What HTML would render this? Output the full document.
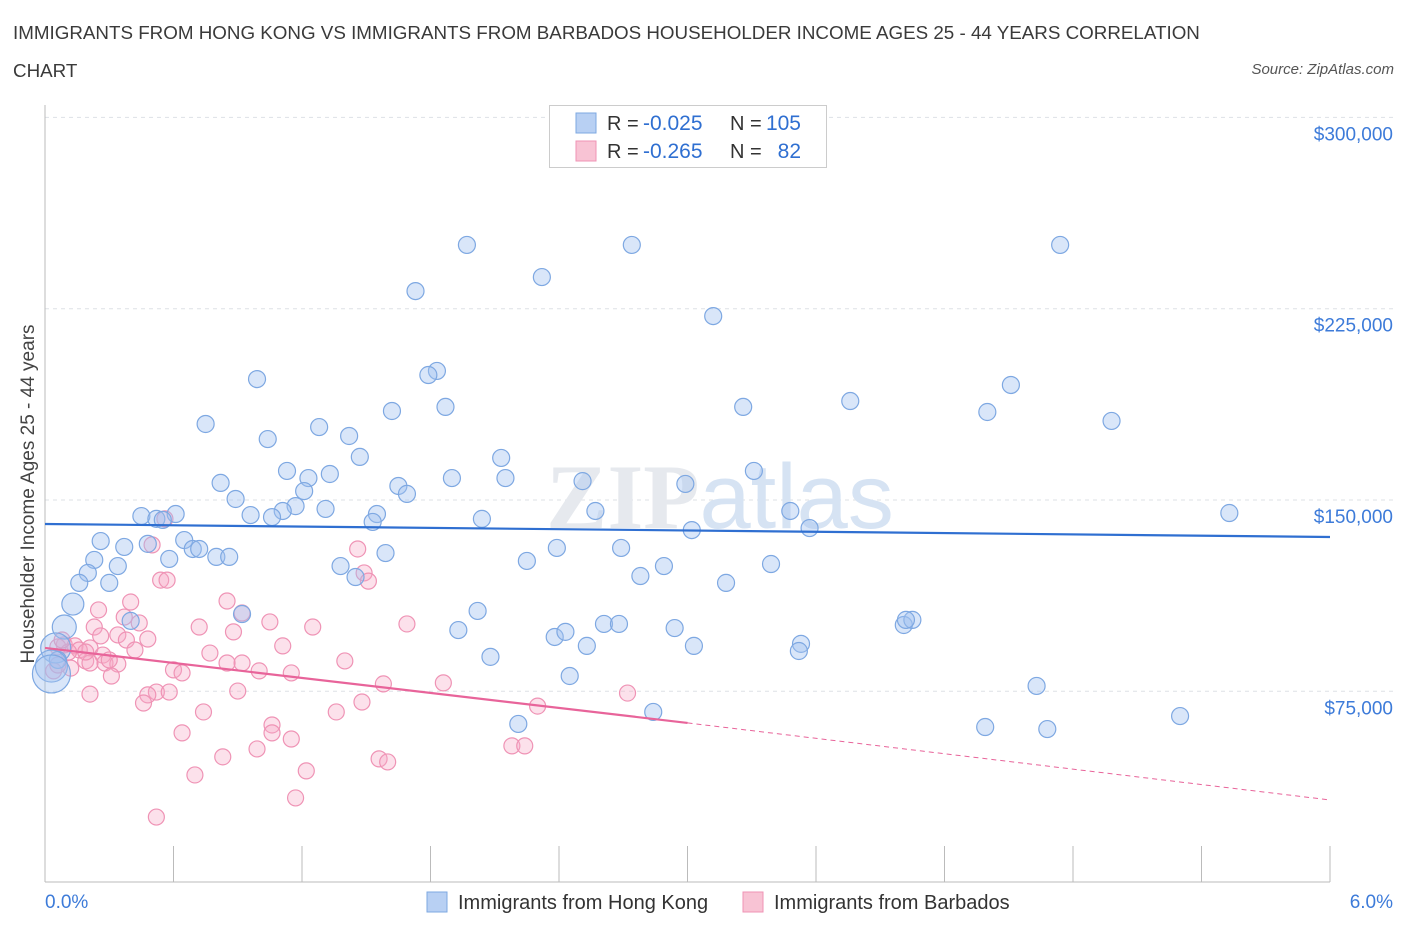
<!DOCTYPE html>
<html><head><meta charset="utf-8"><style>
body{margin:0;background:#fff;font-family:"Liberation Sans",sans-serif;}
#wrap{position:relative;width:1406px;height:930px;overflow:hidden;}
.title{position:absolute;left:13px;top:14px;font-size:18.8px;color:#3a3a3a;line-height:38px;width:1230px;}
.source{position:absolute;right:12px;top:61px;font-size:15px;color:#555;font-style:italic;}
</style></head><body>
<div id="wrap">
<div class="title">IMMIGRANTS FROM HONG KONG VS IMMIGRANTS FROM BARBADOS HOUSEHOLDER INCOME AGES 25 - 44 YEARS CORRELATION CHART</div>
<div class="source">Source: ZipAtlas.com</div>
<svg id="chart" width="1406" height="930" style="position:absolute;left:0;top:0"></svg>
</div>
<script>
const yTicks=[75000,150000,225000,300000];
const yTickLabels=["$75,000","$150,000","$225,000","$300,000"];
const xTickCount=10;
const xLabels=["0.0%","6.0%"];
const blueX=[1.97,2.74,4.74,2.32,1.73,3.12,0.99,1.83,1.79,4.51,1.62,1.87,3.26,3.76,4.40,4.98,0.75,1.04,1.28,1.42,1.47,2.13,1.13,1.23,1.33,0.82,1.65,1.69,1.90,2.15,2.51,2.99,3.31,0.89,1.21,1.17,1.11,1.31,0.96,1.06,1.55,1.53,0.45,0.52,0.61,0.55,2.04,2.57,3.48,5.53,3.02,3.57,0.26,0.37,0.48,0.65,0.69,0.72,0.80,0.86,0.58,1.59,2.39,2.69,0.23,0.34,1.38,1.45,2.25,2.89,3.39,0.20,0.16,0.30,2.78,3.18,0.13,0.92,0.40,2.02,0.09,1.93,2.38,2.43,2.61,2.68,2.94,3.53,3.52,4.01,4.05,4.02,2.53,3.03,2.08,0.05,0.06,0.03,0.03,2.45,4.63,2.84,2.21,4.39,4.68,5.30];
const blueY=[250,250,250,237.4,231.9,222.1,197.4,200.6,199,195.1,184.9,186.5,186.5,188.8,184.5,181,179.8,173.9,178.6,175.1,166.9,166.5,161.4,158.6,160.2,156.7,155.5,152.4,158.6,158.6,157.4,156.3,161.4,150.4,153.5,147.6,145.7,146.5,144.1,143.3,144.5,141.4,143.7,142.6,144.5,142.2,142.6,145.7,145.7,144.9,138.2,139,133.9,131.6,132.8,134.3,130.8,130.8,127.7,127.7,126.9,129.2,131.2,131.2,126.5,124.1,124.1,119.8,126.1,124.1,124.9,121.4,117.5,117.5,120.2,117.5,109.2,105.3,102.6,106.5,100.2,99,96.3,98.3,101.4,101.4,99.8,93.6,90.8,101,103,103,92.8,92.8,88.5,92,87.3,84.9,81.8,81,77.1,66.9,62.2,61,60.2,65.3];
const blueBig={95:15,97:16,98:19,80:12,76:11};
const pinkX=[0.56,0.50,1.46,0.54,0.57,1.49,1.51,0.85,0.40,0.25,0.92,0.37,1.05,0.44,1.25,1.69,0.72,0.23,0.88,0.34,0.48,0.26,1.11,0.38,0.42,0.09,0.14,0.06,0.21,0.16,0.11,0.27,0.77,1.40,0.28,0.92,0.85,0.34,0.19,0.21,0.30,1.00,0.60,1.15,0.64,0.12,0.04,0.31,1.58,1.86,0.52,0.48,0.58,0.90,0.21,2.72,1.48,0.46,0.74,1.36,2.30,1.06,0.64,1.06,1.15,0.83,0.99,2.18,2.24,1.56,1.60,1.22,0.70,1.17,0.52,0.06,0.08,0.19];
const pinkY=[142.6,132.4,130.8,118.6,118.6,121.4,118.2,110.4,110,106.9,105.7,104.1,102.2,101.8,100.2,101.4,100.2,100.2,98.3,97.1,95.5,96.7,92.8,95.1,91.2,93.2,92.8,92.4,92,91.2,90.4,89.2,90,86.9,86.1,86.1,86.1,85.7,86.9,86.1,87.3,83,83.4,82.2,82.2,84.1,83,81,77.9,78.3,74.7,73.6,74.7,75.1,73.9,74.3,70.8,70.4,66.9,66.9,69.2,61.8,58.7,58.7,56.3,49.3,52.4,53.6,53.6,48.5,47.3,43.8,42.2,33.2,25.7,85.3,95.1,90.4];
const blueTrend=[140.6,135.5];
const pinkTrend=[92,62.6,32.4];
const X0=45,X1=1330,Y0=882.6,PX_PER_K=191.3/75;
function sx(p){return X0+(p/6)*(X1-X0);}
function sy(k){return Y0-k*PX_PER_K;}
const svg=document.getElementById('chart');const NS='http://www.w3.org/2000/svg';
function mk(t,a,p){const e=document.createElementNS(NS,t);for(const k in a)e.setAttribute(k,a[k]);(p||svg).appendChild(e);return e;}
yTicks.forEach((v,i)=>{const y=sy(v/1000);
const g=mk('line',{x1:45,x2:1395,y1:y,y2:y,stroke:'#dde1e6','stroke-dasharray':'4,4'});


const t=mk('text',{x:1393,y:y+23,'text-anchor':'end','font-size':19,fill:'#3d7bd9','font-family':'Liberation Sans'});t.textContent=yTickLabels[i];

});
const ax=mk('line',{x1:45,x2:1330,y1:882,y2:882,stroke:'#bbb'});


const ay=mk('line',{x1:45,x2:45,y1:105,y2:882,stroke:'#bbb'});


for(let i=0;i<=xTickCount;i++){const x=sx(i*6/xTickCount);const t=mk('line',{x1:x,x2:x,y1:846,y2:882,stroke:'#bbb'});

}
const xl0=mk('text',{x:45,y:908,'font-size':19,fill:'#3d7bd9'});xl0.textContent=xLabels[0];


const xl1=mk('text',{x:1393,y:908,'font-size':19,fill:'#3d7bd9','text-anchor':'end'});xl1.textContent=xLabels[1];


const yt=mk('text',{x:34,y:494,'font-size':19,fill:'#444','text-anchor':'middle',transform:'rotate(-90 34 494)'});yt.textContent='Householder Income Ages 25 - 44 years';


const wm=mk('text',{x:720,y:528,'text-anchor':'middle','font-size':92,fill:'#e6e9ee','font-family':'Liberation Serif','font-weight':'bold'});
wm.innerHTML='ZIP<tspan font-family="Liberation Sans" font-weight="normal" fill="#d6e3f3">atlas</tspan>';


pinkX.forEach((v,i)=>{const c=mk('circle',{cx:sx(v),cy:sy(pinkY[i]),r:8,fill:'rgba(246,170,198,0.35)',stroke:'#ef93b5','stroke-width':1.2});

});
blueX.forEach((v,i)=>{const c=mk('circle',{cx:sx(v),cy:sy(blueY[i]),r:blueBig[i]||8.5,fill:'rgba(160,192,240,0.4)',stroke:'#7ea8e2','stroke-width':1.2});

});
const bt=mk('line',{x1:sx(0),y1:sy(blueTrend[0]),x2:sx(6),y2:sy(blueTrend[1]),stroke:'#2f6fd1','stroke-width':2.2});


const pt=mk('line',{x1:sx(0),y1:sy(pinkTrend[0]),x2:sx(3),y2:sy(pinkTrend[1]),stroke:'#e8649a','stroke-width':2.2});


const pd=mk('line',{x1:sx(3),y1:sy(pinkTrend[1]),x2:sx(6),y2:sy(pinkTrend[2]),stroke:'#e8649a','stroke-width':1,'stroke-dasharray':'5,4'});


const lb=mk('rect',{x:549.5,y:105.5,width:277,height:62,fill:'#fff',stroke:'#ccc'});


[['#b8d0f3','#7ea8e2','-0.025','105',123],['#f8c3d4','#ef93b5','-0.265','82',151]].forEach(r=>{
const s=mk('rect',{x:576,y:r[4]-10,width:20,height:20,fill:r[0],stroke:r[1]});


const t=mk('text',{x:607,y:r[4]+7,'font-size':20,fill:'#333'});
t.innerHTML='<tspan>R = </tspan><tspan x="643" font-size="21" fill="#2f6fd1">'+r[2]+'</tspan><tspan x="730">N = </tspan><tspan x="801" text-anchor="end" font-size="21" fill="#2f6fd1">'+r[3]+'</tspan>';

});
[['#b8d0f3','#7ea8e2','Immigrants from Hong Kong',427],['#f8c3d4','#ef93b5','Immigrants from Barbados',743]].forEach(r=>{
const s=mk('rect',{x:r[3],y:892,width:20,height:20,fill:r[0],stroke:r[1]});


const t=mk('text',{x:r[3]+31,y:909,'font-size':20,fill:'#333'});t.textContent=r[2];

});
</script>
</body></html>
